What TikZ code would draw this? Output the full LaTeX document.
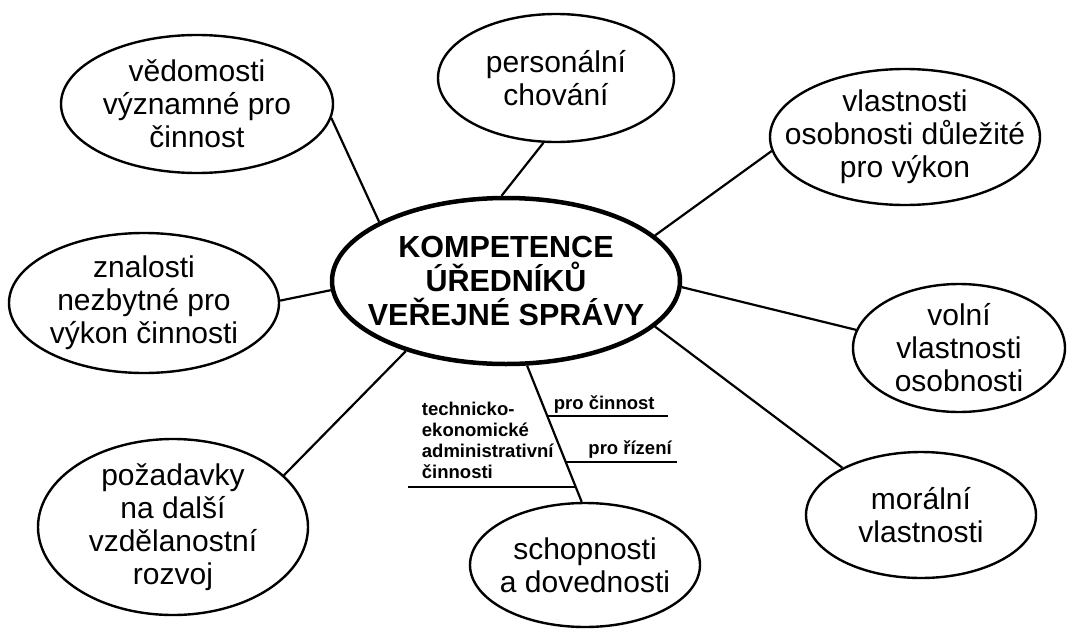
\documentclass[tikz,border=0pt]{standalone}
\usepackage{fontspec}
\setmainfont{Liberation Sans}
\usetikzlibrary{shapes.geometric}
\begin{document}
\begin{tikzpicture}[x=1pt,y=-1pt,
  bub/.style={draw,ellipse,line width=2.4pt,inner sep=-30pt,align=center,font=\fontsize{30}{33}\selectfont},
  hub/.style={bub,line width=4.5pt,font=\bfseries\fontsize{30.5}{34}\selectfont},
  spoke/.style={line width=2.2pt},
  tag/.style={inner sep=0pt,align=left,font=\bfseries\fontsize{18.5}{21}\selectfont}]
\useasboundingbox (0,0) rectangle (1074,635);
\node[hub,minimum width=348pt,minimum height=166pt] (kc) at (506,281) {KOMPETENCE\\ÚŘEDNÍKŮ\\VEŘEJNÉ SPRÁVY};
\node[bub,minimum width=272pt,minimum height=138pt] (ved) at (197,104) {vědomosti\\významné pro\\činnost};
\node[bub,minimum width=236pt,minimum height=128pt] (pers) at (556,78) {personální\\chování};
\node[bub,minimum width=270pt,minimum height=136pt] (vlast) at (905,137) {vlastnosti\\osobnosti důležité\\pro výkon};
\node[bub,minimum width=270pt,minimum height=140pt] (znal) at (144,303) {znalosti\\nezbytné pro\\výkon činnosti};
\node[bub,minimum width=212pt,minimum height=128pt] (voln) at (959,348) {volní\\vlastnosti\\osobnosti};
\node[bub,minimum width=230pt,minimum height=126pt] (mor) at (921,515) {morální\\vlastnosti};
\node[bub,minimum width=270pt,minimum height=176pt] (poz) at (173,527) {požadavky\\na další\\vzdělanostní\\rozvoj};
\node[bub,minimum width=230pt,minimum height=124pt] (schop) at (585,565) {schopnosti\\a dovednosti};
\draw[spoke] (ved.-6) -- (kc.155);
\draw[spoke] (pers.-101) -- (kc.93);
\draw[spoke] (vlast.186) -- (kc.17);
\draw[spoke] (znal.1) -- (kc.183);
\draw[spoke] (kc.-2) -- (voln.170);
\draw[spoke] (kc.-17) -- (mor.149);
\draw[spoke] (kc.215) -- (poz.25);
\draw[spoke] (kc.-76) -- coordinate[pos=.371] (b1) coordinate[pos=.707] (b2) coordinate[pos=.893] (b3) (schop.93);
% branches of the skills line
\draw[spoke] (b1) -- node[tag,above=1.5pt,pos=.47] (cin) {pro činnost} ++(121,0);
\draw[spoke] (b2) -- node[tag,above=2pt,pos=.58] (riz) {pro řízení} ++(111,0);
\draw[spoke] (b3) -- ++(-168,0) node[tag,anchor=south west,xshift=13pt,yshift=7pt] (adm) {technicko-\\ekonomické\\administrativní\\činnosti};
\end{tikzpicture}
\end{document}
